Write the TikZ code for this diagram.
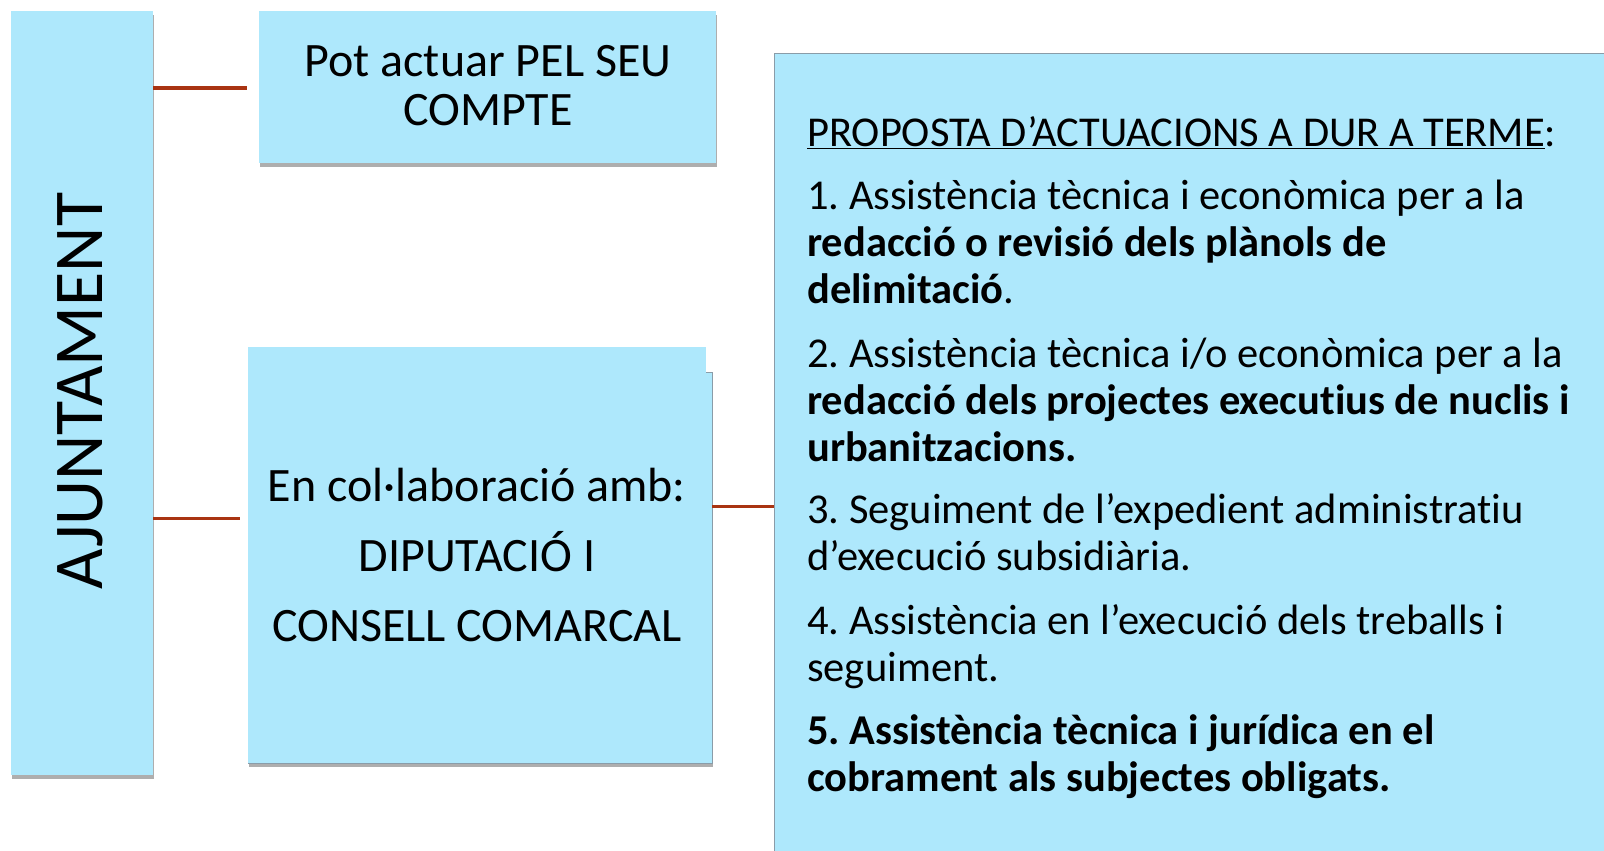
\documentclass[tikz,border=0pt]{standalone}
\usepackage{fontspec}
\setmainfont[Ligatures=NoCommon]{Carlito}
\usetikzlibrary{shadows}
\definecolor{boxfill}{HTML}{AEE8FC}
\definecolor{connred}{HTML}{A93412}
\definecolor{edgegray}{HTML}{8A9CA8}
\frenchspacing
\tikzset{
  box/.style={fill=boxfill, inner sep=0pt, outer sep=0pt, draw=none,
    drop shadow={shadow xshift=1pt, shadow yshift=-4pt, opacity=.45, fill=black!70}},
  conn/.style={draw=connred, line width=3pt},
  proptxt/.style={anchor=base west, inner sep=0pt, font=\fontsize{42.5}{47}\selectfont},
}
\begin{document}
\begin{tikzpicture}[x=1pt,y=-1pt]
\clip (0,0) rectangle (1604,851);
\fill[white] (0,0) rectangle (1604,851);
% boxes
\node[box, minimum width=142pt, minimum height=764pt] (ajt) at (82,393) {};
\node[rotate=90, font=\fontsize{70}{76}\selectfont] (ajtxt) at (80,391) {AJUNTAMENT};
\node[box, minimum width=457pt, minimum height=152pt] (pot) at (487.5,87) {};
\node[align=center, font=\fontsize{48}{49}\selectfont] (pottxt) at (488,86) {Pot actuar PEL SEU\\COMPTE};
\node[box, draw=edgegray, line width=0.8pt, minimum width=464pt, minimum height=391pt] (midback) at (480,567.5) {};
\node[fill=boxfill, inner sep=0pt, minimum width=458pt, minimum height=416pt] (mid) at (477,555) {};
\node[align=center, font=\fontsize{48}{70}\selectfont] (midtxt) at (477,555) {En col·laboració amb:\\DIPUTACIÓ I\\CONSELL COMARCAL};
\node[box, draw=edgegray, line width=1pt, minimum width=846pt, minimum height=816pt] (prop) at (1197,462) {};
% connectors
\coordinate (c1e) at (247,88);
\coordinate (c2e) at (240,518);
\coordinate (c3) at (0,506);
\draw[conn] (ajt.east |- c1e) -- (c1e);
\draw[conn] (ajt.east |- c2e) -- (c2e);
\draw[conn] (midback.east |- c3) -- (prop.west |- c3);
% proposal text
\node[proptxt] (l1) at (807,146) {\underline{PROPOSTA D’ACTUACIONS A DUR A TERME}:};
\node[proptxt] (l2) at (807,209) {1. Assistència tècnica i econòmica per a la};
\node[proptxt] (l3) at (807,256) {\textbf{redacció o revisió dels plànols de}};
\node[proptxt] (l4) at (807,303) {\textbf{delimitació}.};
\node[proptxt] (l5) at (807,367) {2. Assistència tècnica i/o econòmica per a la};
\node[proptxt] (l6) at (807,414) {\textbf{redacció dels projectes executius de nuclis i}};
\node[proptxt] (l7) at (807,461) {\textbf{urbanitzacions.}};
\node[proptxt] (l8) at (807,523) {3. Seguiment de l’expedient administratiu};
\node[proptxt] (l9) at (807,570) {d’execució subsidiària.};
\node[proptxt] (l10) at (807,634) {4. Assistència en l’execució dels treballs i};
\node[proptxt] (l11) at (807,681) {seguiment.};
\node[proptxt] (l12) at (807,744) {\textbf{5. Assistència tècnica i jurídica en el}};
\node[proptxt] (l13) at (807,791) {\textbf{cobrament als subjectes obligats.}};
\end{tikzpicture}
\end{document}
